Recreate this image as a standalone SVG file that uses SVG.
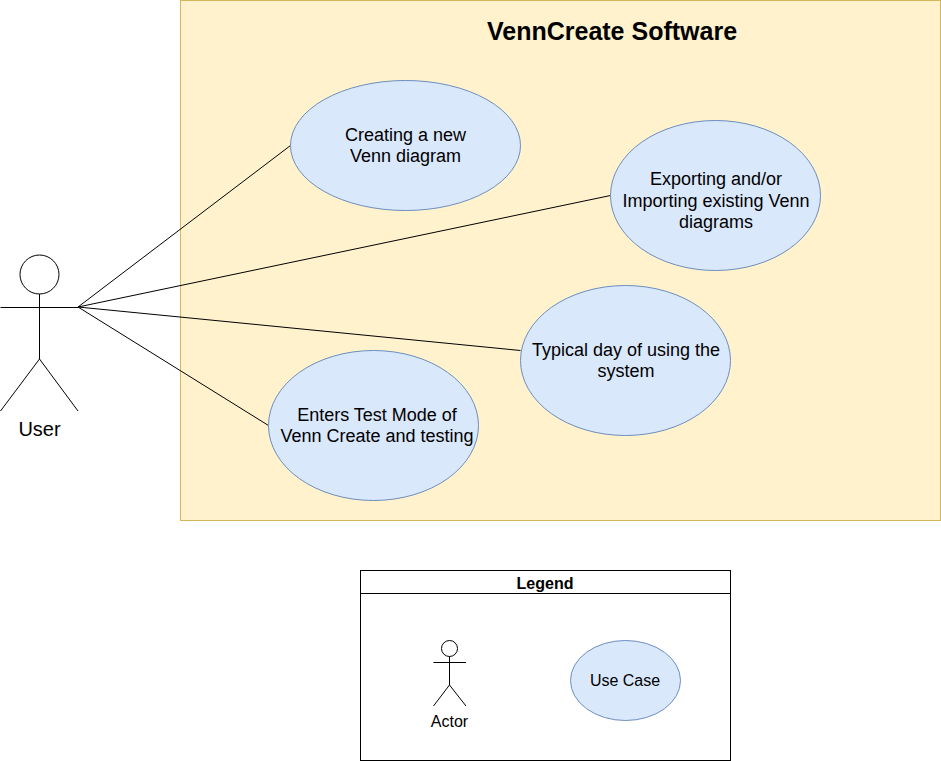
<svg xmlns="http://www.w3.org/2000/svg" width="941" height="761" viewBox="0 0 941 761">
<style>
text{font-family:"Liberation Sans",Arial,sans-serif;fill:#000;text-anchor:middle}
.uc{fill:#dae8fc;stroke:#6c8ebf;stroke-width:1}
.ln{fill:none;stroke:#000;stroke-width:1}
.t16{font-size:18px}
.t14{font-size:16px}
</style>
<rect width="941" height="761" fill="#fff"/>
<g id="system">
<rect x="180.500" y="0.500" width="760" height="520" fill="#fff2cc" stroke="#d6b656"/>
<text x="612" y="40" font-size="25" font-weight="bold">VennCreate Software</text>
</g>
<g id="connectors" class="ln">
<path d="M78 307L290.500 145.500"/>
<path d="M78 307L610.500 195.500"/>
<path d="M78 307L520.500 350.500"/>
<path d="M78 307L268.500 425.500"/>
</g>
<g id="user">
<circle cx="39.500" cy="274.500" r="19.500" class="ln" fill="#fff"/>
<path class="ln" d="M39.500 294V359M0.500 307.500H78M39.500 359L0.500 411M39.500 359L78 411"/>
<text x="39.500" y="436" font-size="20">User</text>
</g>
<g id="uc1">
<ellipse cx="405.500" cy="145.500" rx="115" ry="65" class="uc"/>
<text class="t16" x="405.500" y="141">Creating a new</text>
<text class="t16" x="405.500" y="162">Venn diagram</text>
</g>
<g id="uc2">
<ellipse cx="715.500" cy="195.500" rx="105" ry="75" class="uc"/>
<text class="t16" x="716" y="185">Exporting and/or</text>
<text class="t16" x="716" y="207">Importing existing Venn</text>
<text class="t16" x="716" y="228">diagrams</text>
</g>
<g id="uc3">
<ellipse cx="625.500" cy="360.500" rx="105" ry="75" class="uc"/>
<text class="t16" x="626" y="356">Typical day of using the</text>
<text class="t16" x="626" y="377">system</text>
</g>
<g id="uc4">
<ellipse cx="373.500" cy="425.500" rx="105" ry="75" class="uc"/>
<text class="t16" x="377" y="421">Enters Test Mode of</text>
<text class="t16" x="377" y="442">Venn Create and testing</text>
</g>
<g id="legend">
<rect x="360.500" y="570.500" width="370" height="190" fill="#fff" stroke="#000"/>
<path class="ln" d="M360.500 593.500H730.500"/>
<text x="545" y="589" font-size="16" font-weight="bold">Legend</text>
</g>
<g id="legend-actor">
<circle cx="449.500" cy="648.500" r="8" class="ln" fill="#fff"/>
<path class="ln" d="M449.500 656.500V685M433.500 662.500H466M449.500 685L433.500 706M449.500 685L466 706"/>
<text class="t14" x="449.500" y="727">Actor</text>
</g>
<g id="legend-usecase">
<ellipse cx="625.500" cy="680.500" rx="55" ry="40" class="uc"/>
<text class="t14" x="625" y="686">Use Case</text>
</g>
</svg>
